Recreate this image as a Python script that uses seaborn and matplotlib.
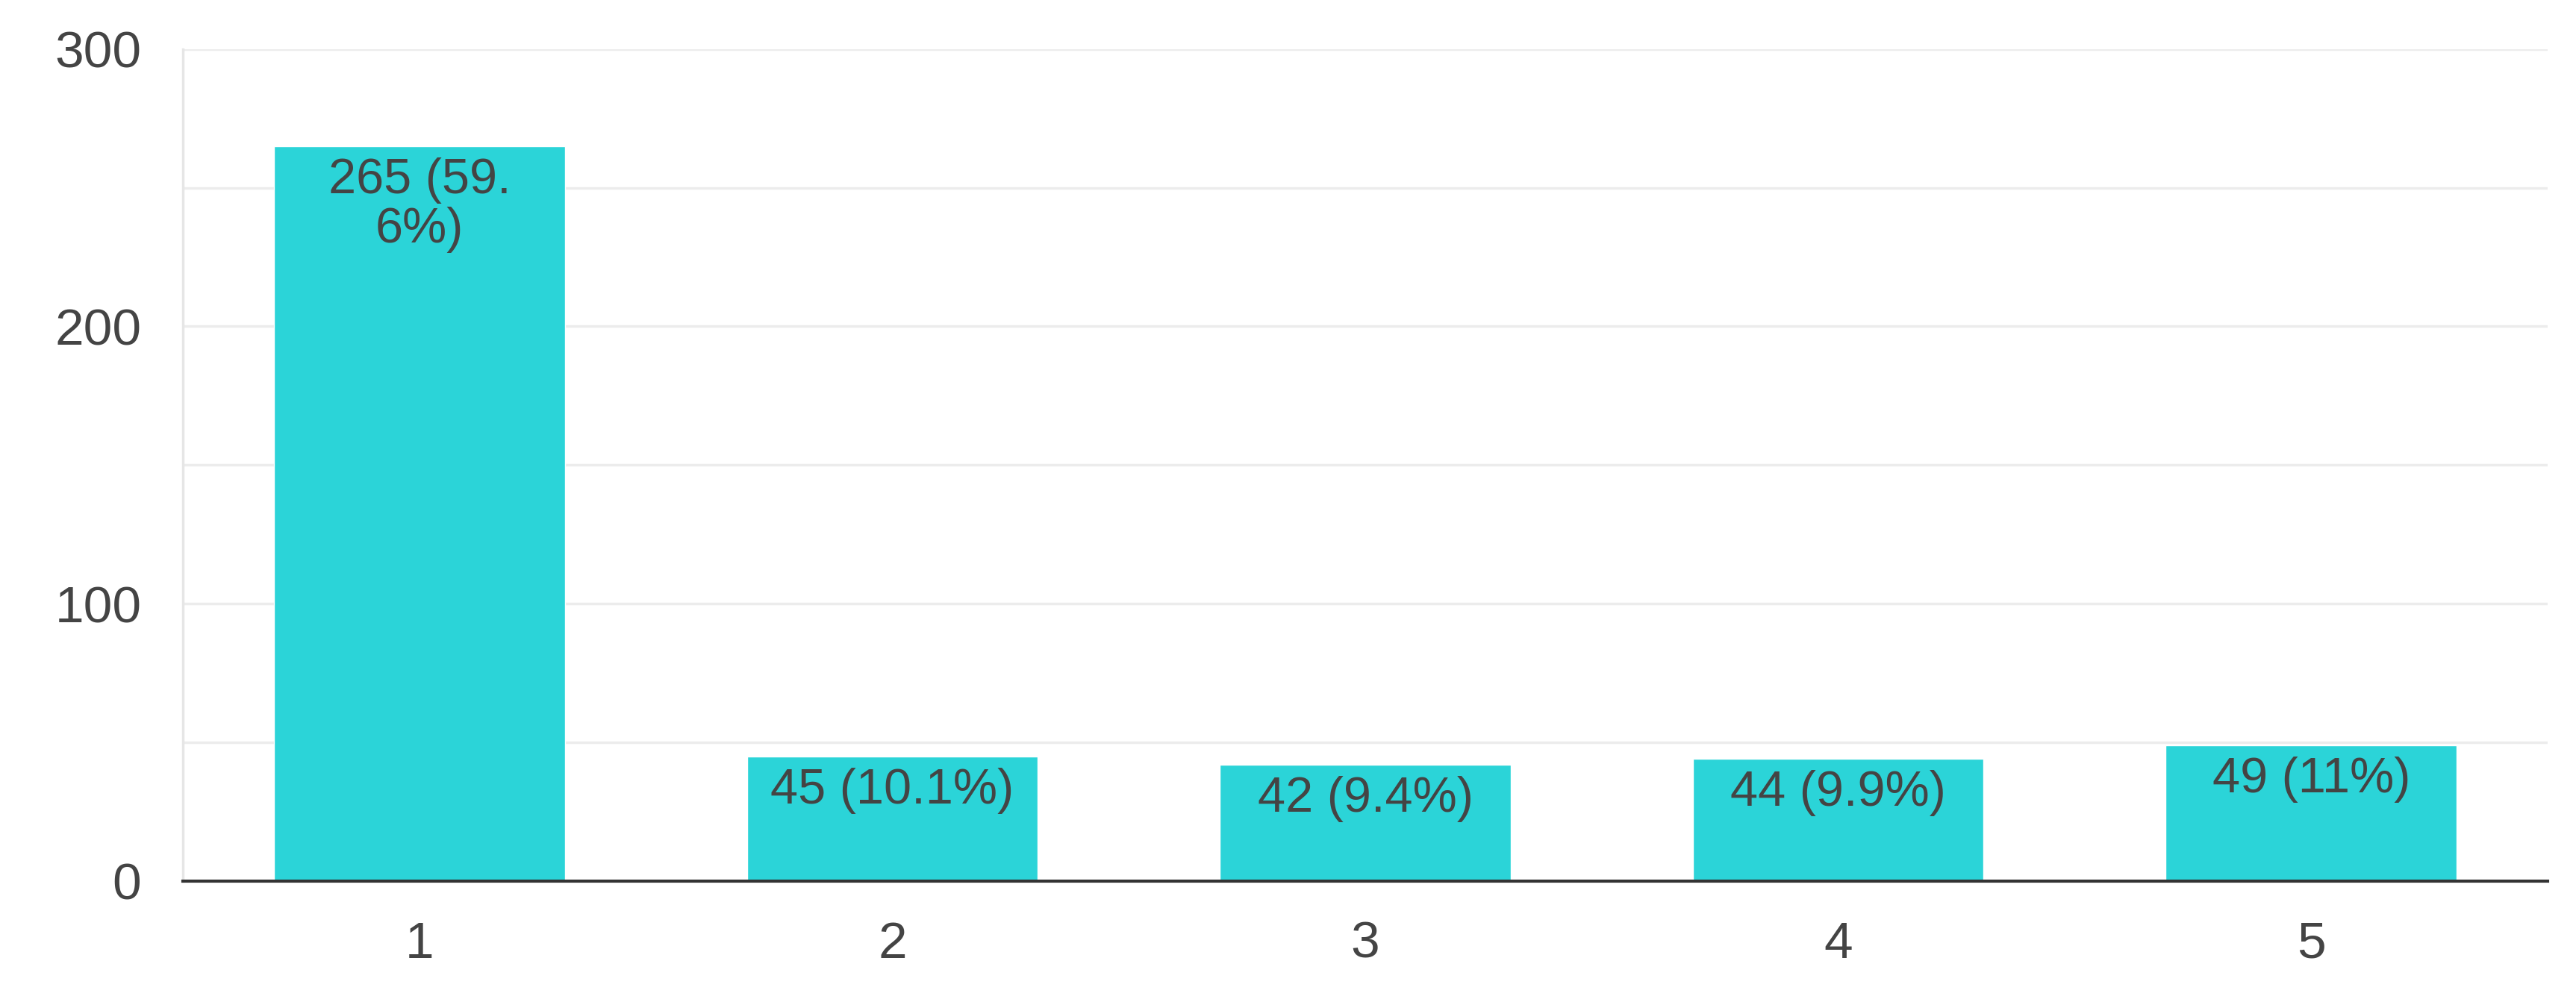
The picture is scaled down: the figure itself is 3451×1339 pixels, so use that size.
import numpy as np
import pandas as pd
import matplotlib
matplotlib.use('Agg')
import matplotlib.pyplot as plt
import seaborn as sns

categories = ['1', '2', '3', '4', '5']
counts = [265, 45, 42, 44, 49]
labels = ['265 (59.\n6%)', '45 (10.1%)', '42 (9.4%)', '44 (9.9%)', '49 (11%)']

sns.set_style('white')
plt.rcParams['font.family'] = ['Liberation Sans', 'DejaVu Sans']

df = pd.DataFrame({'rating': categories, 'count': counts})

fig = plt.figure(figsize=(34.51, 13.39), dpi=100)
ax = fig.add_axes([0.071, 0.118, 0.918, 0.833])
ax.set_axisbelow(True)
sns.barplot(x='rating', y='count', data=df, color='#2BD4D8', saturation=1, width=0.615, ax=ax)

ax.set_ylim(0, 300)
ax.set_yticks([0, 100, 200, 300])
ax.set_yticks([50, 150, 250], minor=True)
ax.grid(axis='y', which='both', color='#ececec', linewidth=2.5)
ax.set_xlabel('')
ax.set_ylabel('')
ax.tick_params(axis='both', which='both', length=0, labelsize=50, labelcolor='#444444')
ax.tick_params(axis='x', pad=38)
ax.tick_params(axis='y', pad=40)
for s in ['top', 'right']:
    ax.spines[s].set_visible(False)
ax.spines['left'].set_color('#e6e6e6')
ax.spines['left'].set_linewidth(2.5)
ax.spines['bottom'].set_color('#333333')
ax.spines['bottom'].set_linewidth(3)

for i, (c, lab) in enumerate(zip(counts, labels)):
    ax.text(i, c - 4, lab, ha='center', va='top', fontsize=48, color='#444444', linespacing=1.1)

fig.savefig('out.png', dpi=100)
